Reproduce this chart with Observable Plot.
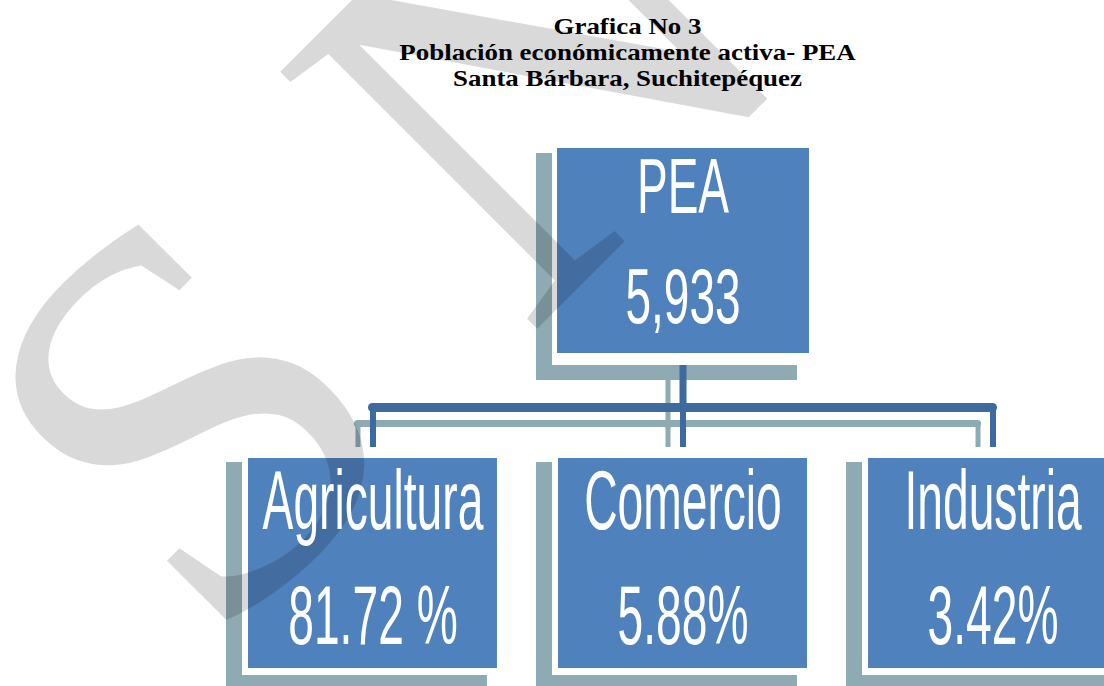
<!DOCTYPE html>
<html>
<head>
<meta charset="utf-8">
<script src="https://cdn.jsdelivr.net/npm/d3@7"></script>
<script src="https://cdn.jsdelivr.net/npm/@observablehq/plot@0.6"></script>
<style>
  html, body { margin: 0; padding: 0; background: #ffffff; overflow: hidden; }
</style>
</head>
<body>
<div id="chart"></div>
<script>
// ---- data ----
const titleLines = ["Grafica No 3", "Población económicamente activa- PEA", "Santa Bárbara, Suchitepéquez"];
const rootName = "PEA";
const rootTotal = "5,933";
const sectors = ["Agricultura", "Comercio", "Industria"];
const shares = ["81.72 %", "5.88%", "3.42%"];
const levels = ["Total", "Sector"];
const watermark = "S N";

// ---- derived tables ----
const rootNode = [{col: sectors[1], level: levels[0], name: rootName, value: rootTotal}];
const childNodes = sectors.map((s, i) => ({col: s, level: levels[1], name: s, value: shares[i]}));

// ---- styles ----
const boxBlue = "#4f81bd";
const lineBlue = "#3d6a9f";
const shadow = "#8eaab3";
const sans = "'Liberation Sans', Arial, sans-serif";
const serif = "'Liberation Serif', 'Times New Roman', serif";
const SH = {dx: -16, dy: 15};
const LSH = {dx: -15, dy: 16};

const topLevel = () => levels[0];
const bottomLevel = () => levels[1];

const chart = Plot.plot({
  width: 1104,
  height: 686,
  margin: 0,
  style: {background: "white", overflow: "hidden"},
  x: {type: "band", domain: sectors, range: [248, 1117], paddingInner: 0.197, paddingOuter: 0, round: false, axis: null},
  y: {type: "band", domain: levels, range: [148, 668], paddingInner: 0.3226, paddingOuter: 0, round: false, axis: null},
  marks: [
    // box shadows
    Plot.cell(rootNode, {x: "col", y: "level", fill: shadow, insetLeft: -6, insetRight: -6, insetTop: -10, insetBottom: -7, ...SH}),
    Plot.cell(childNodes, {x: "col", y: "level", fill: shadow, insetLeft: -6, insetRight: -6, insetTop: -11, insetBottom: -7, ...SH}),
    // connector shadows
    Plot.ruleX(rootNode, {x: "col", y1: topLevel, y2: bottomLevel, insetTop: 205, insetBottom: 256, stroke: shadow, strokeWidth: 5, ...LSH}),
    Plot.ruleX(childNodes, {x: "col", y1: topLevel, y2: bottomLevel, insetTop: 259, insetBottom: 218, stroke: shadow, strokeWidth: 5, ...LSH}),
    Plot.ruleY([sectors], {x1: () => sectors[0], x2: () => sectors[sectors.length - 1], y: bottomLevel, insetLeft: 124.5, insetRight: 124.5, stroke: shadow, strokeWidth: 7, strokeLinecap: "round", dx: -15, dy: -156 + 16}),
    // blue connectors
    Plot.ruleX(rootNode, {x: "col", y1: topLevel, y2: bottomLevel, insetTop: 205, insetBottom: 256, stroke: lineBlue, strokeWidth: 7}),
    Plot.ruleX(childNodes, {x: "col", y1: topLevel, y2: bottomLevel, insetTop: 259, insetBottom: 218, stroke: lineBlue, strokeWidth: 6}),
    Plot.ruleY([sectors], {x1: () => sectors[0], x2: () => sectors[sectors.length - 1], y: bottomLevel, insetLeft: 124.5, insetRight: 124.5, stroke: lineBlue, strokeWidth: 9, strokeLinecap: "round", dy: -156}),
    // white frames
    Plot.cell(rootNode, {x: "col", y: "level", fill: "white", insetLeft: -6, insetRight: -6, insetTop: -10, insetBottom: -7}),
    Plot.cell(childNodes, {x: "col", y: "level", fill: "white", insetLeft: -6, insetRight: -6, insetTop: -11, insetBottom: -7}),
    // blue boxes
    Plot.cell(rootNode, {x: "col", y: "level", fill: boxBlue, insetLeft: -1, insetRight: -2, insetBottom: 5}),
    Plot.cell(childNodes, {x: "col", y: "level", fill: boxBlue}),
    // watermark
    Plot.text([watermark], {text: d => d, frameAnchor: "bottom-left", dx: 209, dy: -30, rotate: -45, textAnchor: "start", lineAnchor: "bottom", fontFamily: serif, fontSize: 555, fill: "black", fillOpacity: 0.15}),
    // node texts
    Plot.text(rootNode, {x: "col", y: "level", text: "name", fill: "white", fontFamily: sans, fontSize: 78, lineAnchor: "bottom", dy: -40}),
    Plot.text(rootNode, {x: "col", y: "level", text: "value", fill: "white", fontFamily: sans, fontSize: 78, lineAnchor: "bottom", dy: 70}),
    Plot.text(childNodes, {x: "col", y: "level", text: "name", fill: "white", fontFamily: sans, fontSize: 84, lineAnchor: "bottom", dy: -35}),
    Plot.text(childNodes, {x: "col", y: "level", text: "value", fill: "white", fontFamily: sans, fontSize: 84, lineAnchor: "bottom", dy: 80}),
    // title
    Plot.text([titleLines.join("\n")], {text: d => d, frameAnchor: "top", dx: 75, dy: 14.2, lineAnchor: "top", lineHeight: 1.152, fontFamily: serif, fontWeight: "bold", fontSize: 23, fill: "black"})
  ]
});

// horizontal stretch of the typefaces to match the original rendering
const groups = chart.querySelectorAll('g[aria-label="text"]');
const stretch = [1, 0.59, 0.59, 0.55, 0.55, 1.17];
groups.forEach((g, k) => {
  const s = stretch[k] ?? 1;
  if (s === 1) return;
  g.querySelectorAll("text").forEach(t => {
    t.setAttribute("transform", (t.getAttribute("transform") || "") + ` scale(${s},1)`);
  });
});

document.getElementById("chart").appendChild(chart);
</script>
</body>
</html>
